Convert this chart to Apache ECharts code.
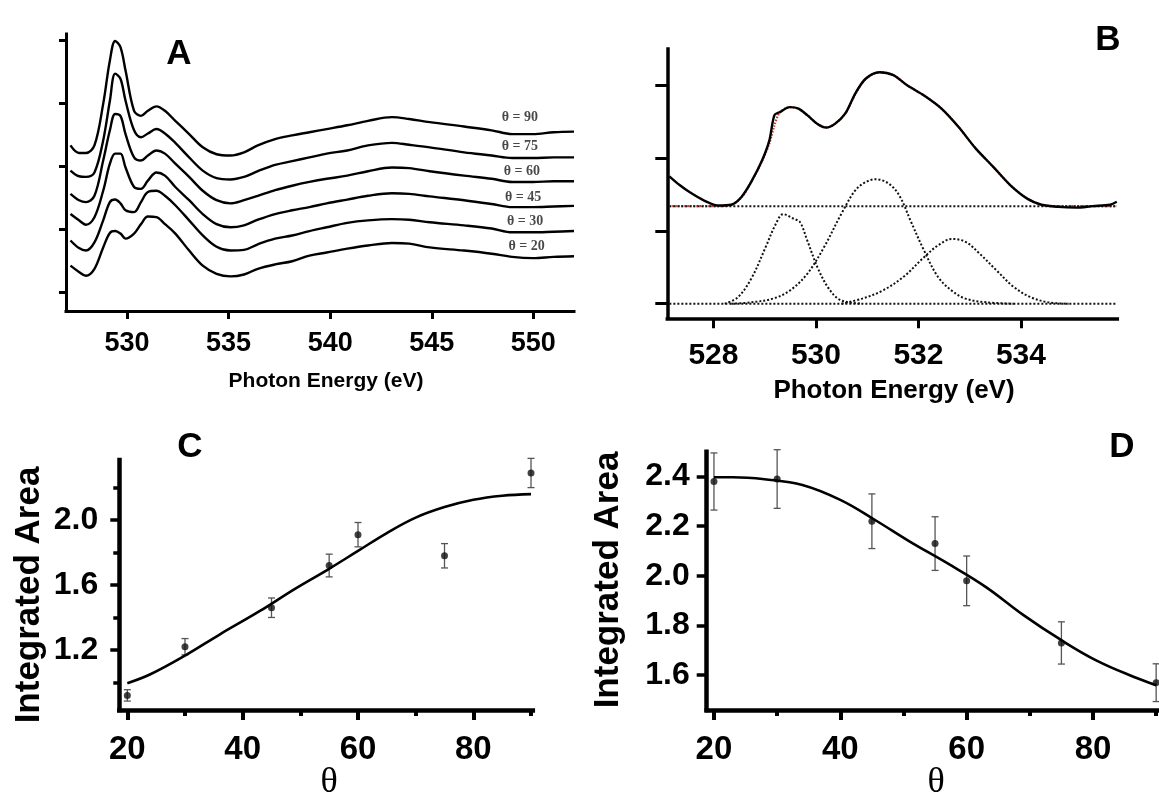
<!DOCTYPE html>
<html><head><meta charset="utf-8">
<script src="https://cdn.jsdelivr.net/npm/echarts@6/dist/echarts.min.js"></script>
<style>html,body{margin:0;padding:0;background:#fff}#c{width:1159px;height:799px}</style>
</head><body><div id="c"></div>
<script>
// ---------- Panel A : NEXAFS spectra ----------
const energyA = [527.22,527.64,527.98,528.40,528.83,529.16,529.42,529.68,529.93,530.35,530.69,531.03,531.45,531.87,532.38,533.06,533.73,534.41,535.09,535.76,536.44,537.29,538.13,538.98,539.83,540.84,541.86,543.04,543.89,544.90,546.59,547.95,548.96,549.98,551.00,552.00];
const spectrum90 = [2.33,2.21,2.21,2.33,2.99,3.68,3.99,3.89,3.52,2.88,2.80,2.88,2.95,2.88,2.72,2.51,2.30,2.19,2.17,2.22,2.33,2.43,2.49,2.54,2.59,2.65,2.72,2.78,2.75,2.70,2.63,2.57,2.51,2.51,2.54,2.55];
const spectrum75 = [1.93,1.84,1.83,1.90,2.41,3.04,3.47,3.39,3.04,2.57,2.46,2.52,2.59,2.52,2.37,2.14,1.93,1.81,1.79,1.83,1.92,2.02,2.08,2.14,2.20,2.25,2.33,2.37,2.34,2.30,2.22,2.17,2.13,2.13,2.14,2.14];
const spectrum60 = [1.56,1.46,1.43,1.53,2.09,2.57,2.83,2.80,2.51,2.14,2.09,2.17,2.25,2.20,2.04,1.83,1.61,1.46,1.41,1.46,1.53,1.62,1.69,1.75,1.80,1.85,1.92,1.98,1.97,1.92,1.85,1.80,1.75,1.75,1.76,1.76];
const spectrum45 = [1.24,1.14,1.07,1.19,1.61,2.04,2.20,2.20,1.98,1.67,1.64,1.77,1.90,1.85,1.67,1.46,1.24,1.08,1.03,1.06,1.15,1.24,1.30,1.35,1.41,1.47,1.53,1.57,1.56,1.52,1.46,1.40,1.35,1.35,1.36,1.37];
const spectrum30 = [0.82,0.70,0.66,0.79,1.14,1.43,1.47,1.41,1.30,1.27,1.43,1.59,1.61,1.53,1.38,1.14,0.90,0.72,0.66,0.67,0.76,0.85,0.90,0.97,1.03,1.10,1.14,1.16,1.15,1.11,1.06,1.01,0.95,0.95,0.96,0.97];
const spectrum20 = [0.42,0.32,0.26,0.37,0.71,0.94,0.97,0.93,0.85,0.93,1.08,1.20,1.19,1.08,0.93,0.66,0.42,0.29,0.25,0.28,0.37,0.44,0.49,0.58,0.63,0.69,0.74,0.78,0.77,0.71,0.66,0.61,0.56,0.54,0.56,0.57];
const spectraA = [spectrum90, spectrum75, spectrum60, spectrum45, spectrum30, spectrum20];
const labelTextA = ['θ = 90','θ = 75','θ = 60','θ = 45','θ = 30','θ = 20'];
const labelEnergyA = [549.34,549.34,549.43,549.50,549.59,549.67];
const labelLevelA = [2.78,2.32,1.91,1.50,1.13,0.72];
const ticksAx = [530,535,540,545,550];
const ticksAy = [0,1,2,3,4];

// ---------- Panel B : peak fit ----------
const energyB = [527.14,527.34,527.54,527.81,528.08,528.35,528.55,528.75,528.95,529.09,529.19,529.29,529.49,529.66,529.83,530.03,530.20,530.37,530.57,530.77,530.97,531.24,531.51,531.78,532.11,532.45,532.78,533.12,533.46,533.79,534.13,534.40,534.73,535.07,535.40,535.74,535.87];
const measuredB = [1.75,1.63,1.53,1.42,1.35,1.36,1.47,1.69,1.97,2.24,2.59,2.63,2.70,2.68,2.59,2.47,2.42,2.47,2.61,2.89,3.09,3.18,3.14,3.00,2.86,2.68,2.43,2.13,1.88,1.63,1.44,1.36,1.33,1.32,1.34,1.36,1.40];
const fitB = [1.34,1.34,1.34,1.34,1.34,1.36,1.46,1.69,1.96,2.20,2.45,2.62,2.70,2.68,2.59,2.47,2.42,2.47,2.61,2.88,3.09,3.18,3.14,3.00,2.86,2.68,2.43,2.13,1.88,1.63,1.44,1.36,1.34,1.34,1.34,1.34,1.34];
const baselineLevelsB = [1.34, 0];
const peak1E = [528.22,528.48,528.75,529.02,529.22,529.36,529.56,529.69,529.83,530.03,530.23,530.43,530.63,530.90];
const peak1V = [0,0.09,0.36,0.78,1.10,1.23,1.17,1.12,0.87,0.50,0.23,0.07,0.02,0];
const peak2E = [528.35,528.75,529.16,529.49,529.83,530.16,530.50,530.77,530.97,531.17,531.44,531.64,531.84,532.11,532.38,532.65,532.92,533.32,533.86];
const peak2V = [0,0.02,0.07,0.18,0.41,0.78,1.24,1.56,1.67,1.71,1.64,1.47,1.15,0.73,0.37,0.18,0.07,0.02,0];
const peak3E = [530.50,530.90,531.30,531.71,532.11,532.38,532.65,532.92,533.19,533.52,533.86,534.19,534.53,534.93];
const peak3V = [0,0.07,0.18,0.37,0.64,0.80,0.89,0.85,0.69,0.46,0.23,0.09,0.02,0];
const ticksBx = [528,530,532,534];
const ticksBy = [0,1,2,3];

// ---------- Panel C ----------
const thetaC = [20,30,45,55,60,75,90];
const areaC = [0.92,1.22,1.46,1.72,1.91,1.78,2.29];
const errC = [0.035,0.05,0.06,0.07,0.075,0.075,0.09];
const fitThetaC = [20,24,30,36,43,49,55,60,65,70,75,80,85,90];
const fitAreaC = [0.995,1.05,1.165,1.295,1.44,1.575,1.70,1.81,1.92,2.015,2.08,2.125,2.15,2.16];
const ticksCy = [1.2,1.6,2.0];
const minorCy = [1.0,1.4,1.8,2.2];

// ---------- Panel D ----------
const thetaD = [20,30,45,55,60,75,90];
const areaD = [2.38,2.39,2.22,2.13,1.98,1.73,1.57];
const errD = [0.115,0.118,0.11,0.108,0.10,0.085,0.076];
const fitThetaD = [20,23,28,34,40,45.5,51,57,63,69,75,80.5,86.5,90];
const fitAreaD = [2.397,2.397,2.389,2.366,2.306,2.225,2.138,2.050,1.956,1.842,1.741,1.660,1.593,1.560];
const ticksDy = [1.6,1.8,2.0,2.2,2.4];
const ticksTheta = [20,40,60,80];
const minorTheta = [30,50,70,90];

// ---------- build ----------
const zip = (xs, ys) => xs.map((x, i) => [x, ys[i]]);
const SANS = '"Liberation Sans", Arial, Helvetica, sans-serif';
const SERIF = '"Liberation Serif", "Times New Roman", "DejaVu Serif", serif';

function axis(o) {
  return {
    type: 'value', gridIndex: o.grid, min: o.min, max: o.max,
    position: o.position,
    axisLine: { show: o.line !== false, onZero: false, lineStyle: { color: '#000', width: o.lw || 3, cap: 'square' } },
    axisTick: { show: true, inside: false, length: o.tl, customValues: o.ticks, lineStyle: { color: '#000', width: o.tw || 3 } },
    axisLabel: o.fs ? { show: true, customValues: o.ticks, fontSize: o.fs, fontWeight: 'bold', fontFamily: SANS, color: '#000', margin: o.margin, formatter: o.fmt } : { show: false },
    splitLine: { show: false }, minorTick: { show: false }
  };
}
const f1 = v => Number(v).toFixed(1);
const f0 = v => String(Math.round(v));

const series = [];
spectraA.forEach((s, i) => series.push({
  type: 'line', xAxisIndex: 0, yAxisIndex: 0, data: zip(energyA, s), showSymbol: false, smooth: 0.35,
  lineStyle: { color: '#000', width: 2.4 }, silent: true
}));
series.push({
  type: 'scatter', xAxisIndex: 0, yAxisIndex: 0, symbolSize: 0,
  data: labelTextA.map((t, i) => ({ value: [labelEnergyA[i], labelLevelA[i]], name: t })),
  label: { show: true, position: 'inside', formatter: p => p.name, fontFamily: SERIF, fontSize: 14, fontWeight: 'bold', color: '#1a1a1a' }
});
// B
series.push({ type: 'line', xAxisIndex: 1, yAxisIndex: 1, data: zip(energyB, fitB), showSymbol: false, smooth: 0.3,
  lineStyle: { color: '#c0392b', width: 2.2, type: [1.5, 1.5] }, z: 2 });
baselineLevelsB.forEach(b => series.push({ type: 'line', xAxisIndex: 1, yAxisIndex: 1,
  data: [[energyB[0], b], [energyB[energyB.length - 1], b]], showSymbol: false,
  lineStyle: { color: '#111', width: 2, type: [2, 2] }, z: 3 }));
[[peak1E, peak1V], [peak2E, peak2V], [peak3E, peak3V]].forEach(([e, v]) => series.push({
  type: 'line', xAxisIndex: 1, yAxisIndex: 1, data: zip(e, v), showSymbol: false, smooth: 0.35,
  lineStyle: { color: '#111', width: 2, type: [2, 2] }, z: 3 }));
series.push({ type: 'line', xAxisIndex: 1, yAxisIndex: 1, data: zip(energyB, measuredB), showSymbol: false, smooth: 0.3,
  lineStyle: { color: '#000', width: 2.4 }, z: 4 });

function errRender(params, api) {
  const x = api.value(0), y = api.value(1), e = api.value(2);
  const hi = api.coord([x, y + e]), lo = api.coord([x, y - e]);
  const w = 3.5, st = { stroke: '#555', lineWidth: 1.3 };
  return { type: 'group', children: [
    { type: 'line', shape: { x1: hi[0], y1: hi[1], x2: lo[0], y2: lo[1] }, style: st },
    { type: 'line', shape: { x1: hi[0] - w, y1: hi[1], x2: hi[0] + w, y2: hi[1] }, style: st },
    { type: 'line', shape: { x1: lo[0] - w, y1: lo[1], x2: lo[0] + w, y2: lo[1] }, style: st }
  ] };
}
// C
series.push({ type: 'line', xAxisIndex: 2, yAxisIndex: 2, data: zip(fitThetaC, fitAreaC), showSymbol: false, smooth: 0.4,
  lineStyle: { color: '#000', width: 2.6 } });
series.push({ type: 'custom', xAxisIndex: 2, yAxisIndex: 2, renderItem: errRender,
  data: thetaC.map((t, i) => [t, areaC[i], errC[i]]), encode: { x: 0, y: 1 }, clip: false });
series.push({ type: 'scatter', xAxisIndex: 2, yAxisIndex: 2, data: zip(thetaC, areaC), symbolSize: 7,
  itemStyle: { color: '#111' }, clip: false });
// D
series.push({ type: 'line', xAxisIndex: 4, yAxisIndex: 4, data: zip(fitThetaD, fitAreaD), showSymbol: false, smooth: 0.4,
  lineStyle: { color: '#000', width: 2.6 } });
series.push({ type: 'custom', xAxisIndex: 4, yAxisIndex: 4, renderItem: errRender,
  data: thetaD.map((t, i) => [t, areaD[i], errD[i]]), encode: { x: 0, y: 1 }, clip: false });
series.push({ type: 'scatter', xAxisIndex: 4, yAxisIndex: 4, data: zip(thetaD, areaD), symbolSize: 7,
  itemStyle: { color: '#111' }, clip: false });

function txt(text, x, y, font, rot) {
  return { type: 'text', x: x, y: y, rotation: rot || 0, silent: true,
    style: { text: text, font: font, fill: '#000', align: 'center', verticalAlign: 'middle' } };
}

const option = {
  animation: false,
  backgroundColor: '#fff',
  grid: [
    { left: 66, top: 34, width: 508, height: 277 },
    { left: 667.3, top: 48.9, width: 450, height: 269.4 },
    { left: 119.3, top: 460, width: 413.5, height: 250 },
    { left: 706.7, top: 451.7, width: 452.5, height: 258.3 }
  ],
  xAxis: [
    axis({ grid: 0, min: 527, max: 552, ticks: ticksAx, tl: 8, fs: 27, margin: 19, fmt: f0, position: 'bottom' }),
    axis({ grid: 1, min: 527.1, max: 535.88, ticks: ticksBx, tl: 10, fs: 30, margin: 22, lw: 3.5, fmt: f0, position: 'bottom' }),
    axis({ grid: 2, min: 18.61, max: 90.31, ticks: ticksTheta, tl: 10, fs: 33, margin: 23, lw: 4.5, tw: 4, fmt: f0, position: 'bottom' }),
    axis({ grid: 2, min: 18.61, max: 90.31, ticks: minorTheta, tl: 6, line: false, tw: 4, position: 'bottom' }),
    axis({ grid: 3, min: 18.85, max: 90.45, ticks: ticksTheta, tl: 10, fs: 33, margin: 23, lw: 4.5, tw: 4, fmt: f0, position: 'bottom' }),
    axis({ grid: 3, min: 18.85, max: 90.45, ticks: minorTheta, tl: 6, line: false, tw: 4, position: 'bottom' })
  ],
  yAxis: [
    axis({ grid: 0, min: -0.3, max: 4.1, ticks: ticksAy, tl: 7, position: 'left' }),
    axis({ grid: 1, min: -0.2, max: 3.5, ticks: ticksBy, tl: 12, lw: 3.5, position: 'left' }),
    axis({ grid: 2, min: 0.83, max: 2.37, ticks: ticksCy, tl: 9, fs: 32, margin: 21, lw: 4.5, tw: 3.5, fmt: f1, position: 'left' }),
    axis({ grid: 2, min: 0.83, max: 2.37, ticks: minorCy, tl: 6, line: false, tw: 3.5, position: 'left' }),
    axis({ grid: 3, min: 1.46, max: 2.5, ticks: ticksDy, tl: 10, fs: 32, margin: 17, lw: 4.5, tw: 3.5, fmt: f1, position: 'left' })
  ],
  series: series,
  graphic: [
    txt('A', 179, 54, 'bold 35px ' + SANS),
    txt('B', 1108, 40, 'bold 35px ' + SANS),
    txt('C', 190, 447, 'bold 35px ' + SANS),
    txt('D', 1122, 447, 'bold 35px ' + SANS),
    txt('Photon Energy (eV)', 326, 381, 'bold 21px ' + SANS),
    txt('Photon Energy (eV)', 894, 391, 'bold 26px ' + SANS),
    txt('Integrated Area', 29.5, 595, 'bold 35px ' + SANS, Math.PI / 2),
    txt('Integrated Area', 608.5, 580, 'bold 35px ' + SANS, Math.PI / 2),
    txt('θ', 329, 783, '36px ' + SERIF),
    txt('θ', 936, 783, '36px ' + SERIF)
  ]
};
const chart = echarts.init(document.getElementById('c'));
chart.setOption(option);
</script></body></html>
